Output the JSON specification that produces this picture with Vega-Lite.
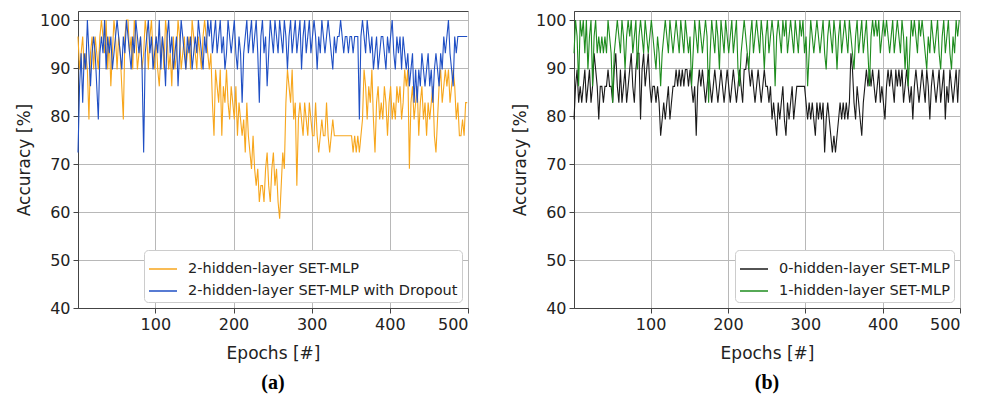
{
"$schema": "https://vega.github.io/schema/vega-lite/v6.json",
"background": "white",
"padding": {"left": 14, "top": 10, "right": 5, "bottom": 4},
"spacing": 106,
"bounds": "flush",
"datasets": {"acc": [
{"e":1,"o":96.6,"b":72.4,"k":79.3,"g":93.1},{"e":3,"o":89.7,"b":86.2,"k":86.2,"g":100},{"e":5,"o":93.1,"b":93.1,"k":89.7,"g":96.6},{"e":7,"o":96.6,"b":82.8,"k":82.8,"g":86.2},{"e":9,"o":89.7,"b":93.1,"k":86.2,"g":100},
{"e":11,"o":93.1,"b":89.7,"k":82.8,"g":96.6},{"e":13,"o":89.7,"b":100,"k":86.2,"g":100},{"e":15,"o":79.3,"b":93.1,"k":89.7,"g":93.1},{"e":17,"o":93.1,"b":86.2,"k":82.8,"g":100},{"e":19,"o":96.6,"b":93.1,"k":86.2,"g":89.7},
{"e":21,"o":89.7,"b":96.6,"k":89.7,"g":96.6},{"e":23,"o":96.6,"b":93.1,"k":82.8,"g":100},{"e":25,"o":93.1,"b":86.2,"k":86.2,"g":86.2},{"e":27,"o":89.7,"b":79.3,"k":93.1,"g":96.6},{"e":29,"o":96.6,"b":93.1,"k":89.7,"g":100},
{"e":31,"o":100,"b":96.6,"k":86.2,"g":93.1},{"e":33,"o":96.6,"b":93.1,"k":79.3,"g":96.6},{"e":35,"o":93.1,"b":100,"k":86.2,"g":93.1},{"e":37,"o":100,"b":89.7,"k":86.2,"g":96.6},{"e":39,"o":89.7,"b":96.6,"k":82.8,"g":93.1},
{"e":41,"o":96.6,"b":93.1,"k":86.2,"g":96.6},{"e":43,"o":86.2,"b":96.6,"k":86.2,"g":93.1},{"e":45,"o":93.1,"b":89.7,"k":89.7,"g":100},{"e":47,"o":100,"b":93.1,"k":86.2,"g":96.6},{"e":49,"o":96.6,"b":96.6,"k":86.2,"g":93.1},
{"e":51,"o":89.7,"b":100,"k":82.8,"g":82.8},{"e":53,"o":96.6,"b":96.6,"k":89.7,"g":93.1},{"e":55,"o":93.1,"b":93.1,"k":93.1,"g":96.6},{"e":57,"o":86.2,"b":89.7,"k":86.2,"g":100},{"e":59,"o":79.3,"b":96.6,"k":82.8,"g":96.6},
{"e":61,"o":96.6,"b":93.1,"k":89.7,"g":93.1},{"e":63,"o":100,"b":100,"k":82.8,"g":100},{"e":65,"o":100,"b":96.6,"k":86.2,"g":96.6},{"e":67,"o":93.1,"b":93.1,"k":89.7,"g":89.7},{"e":69,"o":96.6,"b":89.7,"k":82.8,"g":96.6},
{"e":71,"o":89.7,"b":96.6,"k":86.2,"g":100},{"e":73,"o":100,"b":93.1,"k":89.7,"g":96.6},{"e":75,"o":96.6,"b":100,"k":93.1,"g":100},{"e":77,"o":89.7,"b":96.6,"k":86.2,"g":93.1},{"e":79,"o":93.1,"b":93.1,"k":82.8,"g":96.6},
{"e":81,"o":96.6,"b":96.6,"k":89.7,"g":100},{"e":83,"o":89.7,"b":89.7,"k":93.1,"g":89.7},{"e":85,"o":93.1,"b":72.4,"k":93.1,"g":96.6},{"e":87,"o":100,"b":93.1,"k":79.3,"g":100},{"e":89,"o":96.6,"b":96.6,"k":89.7,"g":96.6},
{"e":91,"o":89.7,"b":100,"k":93.1,"g":93.1},{"e":93,"o":96.6,"b":93.1,"k":86.2,"g":100},{"e":95,"o":100,"b":96.6,"k":89.7,"g":96.6},{"e":97,"o":93.1,"b":89.7,"k":93.1,"g":93.1},{"e":99,"o":89.7,"b":93.1,"k":86.2,"g":96.6},
{"e":101,"o":96.6,"b":96.6,"k":82.8,"g":100},{"e":103,"o":89.7,"b":93.1,"k":86.2,"g":96.6},{"e":105,"o":86.2,"b":100,"k":86.2,"g":93.1},{"e":107,"o":93.1,"b":89.7,"k":82.8,"g":89.7},{"e":109,"o":96.6,"b":96.6,"k":86.2,"g":96.6},
{"e":111,"o":89.7,"b":93.1,"k":82.8,"g":93.1},{"e":113,"o":100,"b":86.2,"k":75.9,"g":86.2},{"e":115,"o":96.6,"b":96.6,"k":79.3,"g":93.1},{"e":117,"o":89.7,"b":100,"k":82.8,"g":96.6},{"e":119,"o":93.1,"b":93.1,"k":79.3,"g":100},
{"e":121,"o":86.2,"b":96.6,"k":82.8,"g":96.6},{"e":123,"o":96.6,"b":89.7,"k":86.2,"g":93.1},{"e":125,"o":89.7,"b":93.1,"k":79.3,"g":100},{"e":127,"o":93.1,"b":96.6,"k":82.8,"g":96.6},{"e":129,"o":100,"b":86.2,"k":86.2,"g":93.1},
{"e":131,"o":96.6,"b":93.1,"k":86.2,"g":96.6},{"e":133,"o":89.7,"b":100,"k":89.7,"g":100},{"e":135,"o":93.1,"b":96.6,"k":86.2,"g":96.6},{"e":137,"o":96.6,"b":93.1,"k":89.7,"g":93.1},{"e":139,"o":89.7,"b":89.7,"k":86.2,"g":100},
{"e":141,"o":93.1,"b":96.6,"k":89.7,"g":96.6},{"e":143,"o":96.6,"b":93.1,"k":86.2,"g":93.1},{"e":145,"o":89.7,"b":96.6,"k":89.7,"g":100},{"e":147,"o":100,"b":89.7,"k":89.7,"g":96.6},{"e":149,"o":96.6,"b":93.1,"k":86.2,"g":93.1},
{"e":151,"o":93.1,"b":96.6,"k":89.7,"g":96.6},{"e":153,"o":89.7,"b":93.1,"k":86.2,"g":86.2},{"e":155,"o":96.6,"b":100,"k":82.8,"g":93.1},{"e":157,"o":93.1,"b":96.6,"k":86.2,"g":100},{"e":159,"o":89.7,"b":93.1,"k":75.9,"g":96.6},
{"e":161,"o":96.6,"b":89.7,"k":86.2,"g":93.1},{"e":163,"o":100,"b":96.6,"k":89.7,"g":100},{"e":165,"o":96.6,"b":93.1,"k":86.2,"g":96.6},{"e":167,"o":93.1,"b":100,"k":89.7,"g":93.1},{"e":169,"o":89.7,"b":96.6,"k":86.2,"g":96.6},
{"e":171,"o":93.1,"b":100,"k":82.8,"g":100},{"e":173,"o":82.8,"b":93.1,"k":86.2,"g":96.6},{"e":175,"o":75.9,"b":96.6,"k":89.7,"g":82.8},{"e":177,"o":89.7,"b":100,"k":86.2,"g":93.1},{"e":179,"o":86.2,"b":93.1,"k":82.8,"g":100},
{"e":181,"o":82.8,"b":96.6,"k":86.2,"g":96.6},{"e":183,"o":89.7,"b":100,"k":89.7,"g":93.1},{"e":185,"o":75.9,"b":93.1,"k":86.2,"g":100},{"e":187,"o":86.2,"b":96.6,"k":82.8,"g":96.6},{"e":189,"o":82.8,"b":89.7,"k":86.2,"g":89.7},
{"e":191,"o":89.7,"b":93.1,"k":89.7,"g":100},{"e":193,"o":82.8,"b":100,"k":86.2,"g":96.6},{"e":195,"o":79.3,"b":96.6,"k":82.8,"g":93.1},{"e":197,"o":86.2,"b":93.1,"k":86.2,"g":100},{"e":199,"o":82.8,"b":96.6,"k":89.7,"g":96.6},
{"e":201,"o":79.3,"b":100,"k":86.2,"g":93.1},{"e":203,"o":86.2,"b":93.1,"k":82.8,"g":96.6},{"e":205,"o":75.9,"b":89.7,"k":86.2,"g":100},{"e":207,"o":82.8,"b":96.6,"k":89.7,"g":93.1},{"e":209,"o":79.3,"b":93.1,"k":86.2,"g":96.6},
{"e":211,"o":75.9,"b":82.8,"k":82.8,"g":100},{"e":213,"o":79.3,"b":93.1,"k":86.2,"g":89.7},{"e":215,"o":72.4,"b":96.6,"k":89.7,"g":86.2},{"e":217,"o":82.8,"b":100,"k":86.2,"g":93.1},{"e":219,"o":75.9,"b":93.1,"k":82.8,"g":96.6},
{"e":221,"o":72.4,"b":96.6,"k":89.7,"g":100},{"e":223,"o":69.0,"b":100,"k":89.7,"g":96.6},{"e":225,"o":75.9,"b":93.1,"k":93.1,"g":93.1},{"e":227,"o":69.0,"b":96.6,"k":89.7,"g":89.7},{"e":229,"o":65.5,"b":100,"k":86.2,"g":96.6},
{"e":231,"o":69.0,"b":93.1,"k":89.7,"g":100},{"e":233,"o":62.1,"b":82.8,"k":86.2,"g":93.1},{"e":235,"o":65.5,"b":96.6,"k":82.8,"g":96.6},{"e":237,"o":65.5,"b":100,"k":86.2,"g":100},{"e":239,"o":62.1,"b":93.1,"k":89.7,"g":96.6},
{"e":241,"o":69.0,"b":96.6,"k":86.2,"g":93.1},{"e":243,"o":72.4,"b":86.2,"k":82.8,"g":100},{"e":245,"o":65.5,"b":93.1,"k":86.2,"g":96.6},{"e":247,"o":62.1,"b":100,"k":89.7,"g":89.7},{"e":249,"o":69.0,"b":96.6,"k":86.2,"g":96.6},
{"e":251,"o":72.4,"b":93.1,"k":86.2,"g":100},{"e":253,"o":65.5,"b":100,"k":82.8,"g":93.1},{"e":255,"o":69.0,"b":96.6,"k":86.2,"g":96.6},{"e":257,"o":62.1,"b":93.1,"k":79.3,"g":100},{"e":259,"o":58.6,"b":100,"k":82.8,"g":96.6},
{"e":261,"o":65.5,"b":96.6,"k":79.3,"g":86.2},{"e":263,"o":72.4,"b":93.1,"k":75.9,"g":96.6},{"e":265,"o":69.0,"b":100,"k":82.8,"g":100},{"e":267,"o":82.8,"b":96.6,"k":79.3,"g":96.6},{"e":269,"o":89.7,"b":89.7,"k":82.8,"g":93.1},
{"e":271,"o":86.2,"b":96.6,"k":86.2,"g":100},{"e":273,"o":82.8,"b":100,"k":79.3,"g":96.6},{"e":275,"o":89.7,"b":93.1,"k":75.9,"g":100},{"e":277,"o":79.3,"b":96.6,"k":82.8,"g":93.1},{"e":279,"o":82.8,"b":100,"k":79.3,"g":96.6},
{"e":281,"o":65.5,"b":93.1,"k":82.8,"g":100},{"e":283,"o":79.3,"b":96.6,"k":86.2,"g":96.6},{"e":285,"o":82.8,"b":100,"k":79.3,"g":93.1},{"e":287,"o":79.3,"b":89.7,"k":82.8,"g":100},{"e":289,"o":75.9,"b":96.6,"k":86.2,"g":96.6},
{"e":291,"o":82.8,"b":100,"k":86.2,"g":93.1},{"e":293,"o":79.3,"b":93.1,"k":86.2,"g":100},{"e":295,"o":75.9,"b":96.6,"k":86.2,"g":96.6},{"e":297,"o":82.8,"b":100,"k":86.2,"g":100},{"e":299,"o":79.3,"b":93.1,"k":86.2,"g":93.1},
{"e":301,"o":75.9,"b":96.6,"k":82.8,"g":96.6},{"e":303,"o":75.9,"b":100,"k":79.3,"g":86.2},{"e":305,"o":82.8,"b":96.6,"k":82.8,"g":93.1},{"e":307,"o":75.9,"b":89.7,"k":79.3,"g":100},{"e":309,"o":72.4,"b":96.6,"k":82.8,"g":96.6},
{"e":311,"o":75.9,"b":93.1,"k":79.3,"g":93.1},{"e":313,"o":79.3,"b":100,"k":75.9,"g":96.6},{"e":315,"o":75.9,"b":96.6,"k":82.8,"g":100},{"e":317,"o":75.9,"b":93.1,"k":79.3,"g":96.6},{"e":319,"o":82.8,"b":96.6,"k":82.8,"g":93.1},
{"e":321,"o":75.9,"b":100,"k":79.3,"g":96.6},{"e":323,"o":72.4,"b":96.6,"k":82.8,"g":100},{"e":325,"o":75.9,"b":93.1,"k":72.4,"g":93.1},{"e":327,"o":79.3,"b":89.7,"k":79.3,"g":89.7},{"e":329,"o":75.9,"b":96.6,"k":82.8,"g":96.6},
{"e":331,"o":75.9,"b":93.1,"k":79.3,"g":100},{"e":333,"o":75.9,"b":96.6,"k":75.9,"g":96.6},{"e":335,"o":75.9,"b":96.6,"k":72.4,"g":93.1},{"e":337,"o":75.9,"b":100,"k":75.9,"g":100},{"e":339,"o":75.9,"b":96.6,"k":72.4,"g":96.6},
{"e":341,"o":75.9,"b":93.1,"k":75.9,"g":89.7},{"e":343,"o":75.9,"b":96.6,"k":79.3,"g":96.6},{"e":345,"o":75.9,"b":96.6,"k":82.8,"g":100},{"e":347,"o":75.9,"b":93.1,"k":79.3,"g":93.1},{"e":349,"o":75.9,"b":96.6,"k":82.8,"g":96.6},
{"e":351,"o":75.9,"b":96.6,"k":79.3,"g":100},{"e":353,"o":72.4,"b":93.1,"k":82.8,"g":96.6},{"e":355,"o":75.9,"b":96.6,"k":79.3,"g":93.1},{"e":357,"o":72.4,"b":96.6,"k":82.8,"g":100},{"e":359,"o":75.9,"b":96.6,"k":93.1,"g":96.6},
{"e":361,"o":72.4,"b":79.3,"k":89.7,"g":93.1},{"e":363,"o":75.9,"b":96.6,"k":82.8,"g":89.7},{"e":365,"o":79.3,"b":100,"k":79.3,"g":96.6},{"e":367,"o":89.7,"b":96.6,"k":86.2,"g":100},{"e":369,"o":86.2,"b":93.1,"k":82.8,"g":93.1},
{"e":371,"o":79.3,"b":100,"k":79.3,"g":96.6},{"e":373,"o":86.2,"b":96.6,"k":75.9,"g":100},{"e":375,"o":82.8,"b":93.1,"k":82.8,"g":93.1},{"e":377,"o":89.7,"b":96.6,"k":86.2,"g":96.6},{"e":379,"o":79.3,"b":89.7,"k":89.7,"g":100},
{"e":381,"o":72.4,"b":93.1,"k":86.2,"g":93.1},{"e":383,"o":82.8,"b":96.6,"k":89.7,"g":86.2},{"e":385,"o":86.2,"b":89.7,"k":86.2,"g":96.6},{"e":387,"o":79.3,"b":93.1,"k":89.7,"g":100},{"e":389,"o":82.8,"b":96.6,"k":86.2,"g":96.6},
{"e":391,"o":79.3,"b":96.6,"k":82.8,"g":100},{"e":393,"o":86.2,"b":93.1,"k":86.2,"g":96.6},{"e":395,"o":82.8,"b":89.7,"k":89.7,"g":100},{"e":397,"o":75.9,"b":96.6,"k":82.8,"g":93.1},{"e":399,"o":82.8,"b":93.1,"k":86.2,"g":96.6},
{"e":401,"o":86.2,"b":96.6,"k":82.8,"g":100},{"e":403,"o":79.3,"b":100,"k":79.3,"g":96.6},{"e":405,"o":82.8,"b":93.1,"k":86.2,"g":100},{"e":407,"o":79.3,"b":89.7,"k":89.7,"g":96.6},{"e":409,"o":86.2,"b":96.6,"k":86.2,"g":93.1},
{"e":411,"o":82.8,"b":93.1,"k":89.7,"g":96.6},{"e":413,"o":86.2,"b":96.6,"k":86.2,"g":100},{"e":415,"o":79.3,"b":89.7,"k":82.8,"g":93.1},{"e":417,"o":82.8,"b":96.6,"k":89.7,"g":96.6},{"e":419,"o":89.7,"b":93.1,"k":86.2,"g":100},
{"e":421,"o":86.2,"b":89.7,"k":89.7,"g":96.6},{"e":423,"o":89.7,"b":93.1,"k":86.2,"g":93.1},{"e":425,"o":69.0,"b":86.2,"k":89.7,"g":100},{"e":427,"o":82.8,"b":89.7,"k":82.8,"g":96.6},{"e":429,"o":86.2,"b":93.1,"k":86.2,"g":89.7},
{"e":431,"o":79.3,"b":82.8,"k":89.7,"g":96.6},{"e":433,"o":82.8,"b":89.7,"k":86.2,"g":86.2},{"e":435,"o":86.2,"b":82.8,"k":82.8,"g":93.1},{"e":437,"o":75.9,"b":89.7,"k":86.2,"g":100},{"e":439,"o":82.8,"b":86.2,"k":79.3,"g":96.6},
{"e":441,"o":86.2,"b":93.1,"k":86.2,"g":100},{"e":443,"o":79.3,"b":89.7,"k":89.7,"g":96.6},{"e":445,"o":82.8,"b":86.2,"k":86.2,"g":93.1},{"e":447,"o":75.9,"b":89.7,"k":82.8,"g":100},{"e":449,"o":82.8,"b":93.1,"k":86.2,"g":96.6},
{"e":451,"o":79.3,"b":86.2,"k":89.7,"g":100},{"e":453,"o":82.8,"b":89.7,"k":86.2,"g":96.6},{"e":455,"o":86.2,"b":82.8,"k":82.8,"g":93.1},{"e":457,"o":75.9,"b":89.7,"k":89.7,"g":89.7},{"e":459,"o":72.4,"b":93.1,"k":86.2,"g":96.6},
{"e":461,"o":79.3,"b":89.7,"k":79.3,"g":93.1},{"e":463,"o":86.2,"b":86.2,"k":86.2,"g":100},{"e":465,"o":89.7,"b":93.1,"k":89.7,"g":96.6},{"e":467,"o":82.8,"b":89.7,"k":86.2,"g":93.1},{"e":469,"o":86.2,"b":96.6,"k":82.8,"g":96.6},
{"e":471,"o":89.7,"b":93.1,"k":86.2,"g":100},{"e":473,"o":86.2,"b":96.6,"k":89.7,"g":93.1},{"e":475,"o":89.7,"b":100,"k":82.8,"g":89.7},{"e":477,"o":82.8,"b":93.1,"k":86.2,"g":96.6},{"e":479,"o":86.2,"b":89.7,"k":89.7,"g":100},
{"e":481,"o":89.7,"b":86.2,"k":79.3,"g":93.1},{"e":483,"o":86.2,"b":96.6,"k":86.2,"g":96.6},{"e":485,"o":79.3,"b":93.1,"k":82.8,"g":100},{"e":487,"o":82.8,"b":96.6,"k":89.7,"g":93.1},{"e":489,"o":75.9,"b":96.6,"k":86.2,"g":89.7},
{"e":491,"o":75.9,"b":96.6,"k":82.8,"g":96.6},{"e":493,"o":79.3,"b":96.6,"k":86.2,"g":93.1},{"e":495,"o":75.9,"b":96.6,"k":89.7,"g":100},{"e":497,"o":82.8,"b":96.6,"k":82.8,"g":96.6},{"e":499,"o":82.8,"b":96.6,"k":89.7,"g":100}
]},
"hconcat": [
{
 "width": 390, "height": 297,
 "data": {"name": "acc"},
 "transform": [{"fold": ["o", "b"], "as": ["s", "v"]}],
 "mark": {"type": "line", "strokeWidth": 1.1},
 "encoding": {
  "x": {"field": "e", "type": "quantitative", "scale": {"domain": [1, 500], "nice": false, "zero": false}, "axis": {"values": [100, 200, 300, 400, 500], "title": "Epochs [#]"}},
  "y": {"field": "v", "type": "quantitative", "scale": {"domain": [40, 101.9], "nice": false, "zero": false}, "axis": {"values": [40, 50, 60, 70, 80, 90, 100], "title": "Accuracy [%]"}},
  "color": {"field": "s", "type": "nominal", "scale": {"domain": ["o", "b"], "range": ["#f7a61c", "#1f4fc4"]}, "legend": {"orient": "bottom-right", "title": null, "labelLimit": 0, "labelExpr": "datum.label == 'o' ? '2-hidden-layer SET-MLP' : '2-hidden-layer SET-MLP with Dropout'"}}
 },
 "title": {"text": "(a)", "orient": "bottom", "anchor": "middle", "font": "Liberation Serif", "fontSize": 20, "fontWeight": "bold", "color": "#000", "offset": 12}
},
{
 "width": 386, "height": 297,
 "data": {"name": "acc"},
 "transform": [{"fold": ["k", "g"], "as": ["s2", "v2"]}],
 "mark": {"type": "line", "strokeWidth": 1.1},
 "encoding": {
  "x": {"field": "e", "type": "quantitative", "scale": {"domain": [1, 500], "nice": false, "zero": false}, "axis": {"values": [100, 200, 300, 400, 500], "title": "Epochs [#]"}},
  "y": {"field": "v2", "type": "quantitative", "scale": {"domain": [40, 101.9], "nice": false, "zero": false}, "axis": {"values": [40, 50, 60, 70, 80, 90, 100], "title": "Accuracy [%]"}},
  "color": {"field": "s2", "type": "nominal", "scale": {"domain": ["k", "g"], "range": ["#1a1a1a", "#1e8c1e"]}, "legend": {"orient": "bottom-right", "title": null, "labelLimit": 0, "labelExpr": "datum.label == 'k' ? '0-hidden-layer SET-MLP' : '1-hidden-layer SET-MLP'"}}
 },
 "title": {"text": "(b)", "orient": "bottom", "anchor": "middle", "font": "Liberation Serif", "fontSize": 20, "fontWeight": "bold", "color": "#000", "offset": 12}
}
],
"resolve": {"scale": {"color": "independent", "x": "independent", "y": "independent"}, "legend": {"color": "independent"}},
"config": {
 "font": "DejaVu Sans",
 "view": {"stroke": "#444444", "strokeWidth": 1},
 "axis": {"grid": true, "gridColor": "#b8b8b8", "gridWidth": 1, "domainColor": "#444444", "tickColor": "#444444", "labelColor": "#222222", "titleColor": "#222222", "labelFontSize": 16, "titleFontSize": 17, "titleFontWeight": "normal", "tickSize": 5, "labelPadding": 3, "titlePadding": 6, "labelFont": "DejaVu Sans", "titleFont": "DejaVu Sans"},
 "axisX": {"titlePadding": 13},
 "legend": {"fillColor": "white", "strokeColor": "#cccccc", "cornerRadius": 4, "padding": 4, "symbolType": "stroke", "symbolSize": 784, "symbolStrokeWidth": 1.5, "labelFontSize": 14.5, "labelColor": "#222222", "labelFont": "DejaVu Sans", "offset": 6, "rowPadding": -6, "labelOffset": 10}
}
}
